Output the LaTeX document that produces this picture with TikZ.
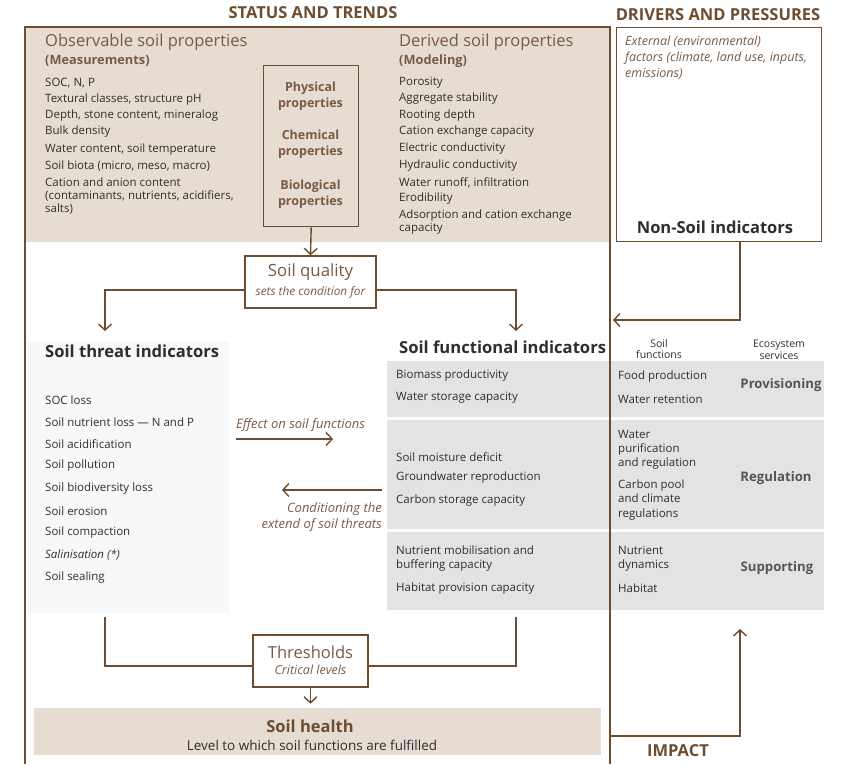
\documentclass[tikz,border=0pt]{standalone}
\usepackage{fontspec}
\setmainfont{Open Sans}
\usetikzlibrary{arrows.meta,calc}
\definecolor{frame}{HTML}{6E4C30}
\definecolor{beige}{HTML}{E6DCD2}
\definecolor{lbrown}{HTML}{7A5A42}
\definecolor{txt}{HTML}{2E2E2E}
\definecolor{grayp}{HTML}{E3E3E3}
\definecolor{lightp}{HTML}{F7F8FA}
\definecolor{svc}{HTML}{555555}
\tikzset{
  frameline/.style={draw=frame,line width=1.5pt},
  conn/.style={draw=frame,line width=1.4pt},
  arr/.style={conn,-{Straight Barb[length=6pt,width=13pt,line width=1.4pt]}},
  item/.style={anchor=west,inner sep=0pt,text=txt,font=\fontsize{11.5}{13}\selectfont,align=left},
  head/.style={anchor=center,inner sep=0pt,text=frame,font=\bfseries\fontsize{16.5}{19}\selectfont},
  big/.style={anchor=west,inner sep=0pt,text=lbrown,font=\fontsize{16.5}{19}\selectfont},
  sub/.style={anchor=west,inner sep=0pt,text=lbrown,font=\bfseries\fontsize{12.8}{15}\selectfont},
  prop/.style={anchor=center,inner sep=0pt,text=lbrown,font=\bfseries\fontsize{12.5}{16.5}\selectfont,align=center},
  ital/.style={inner sep=0pt,text=lbrown,font=\itshape\fontsize{13}{16}\selectfont},
  ttl/.style={anchor=west,inner sep=0pt,text=txt,font=\bfseries\fontsize{16.6}{19}\selectfont},
  svchead/.style={anchor=center,inner sep=0pt,text=txt,font=\fontsize{10.5}{11.5}\selectfont,align=center},
  svcname/.style={anchor=center,inner sep=0pt,text=svc,font=\bfseries\fontsize{13.2}{15}\selectfont},
  box/.style={draw=frame,line width=1.4pt,fill=white,inner sep=0pt},
}
\begin{document}
\begin{tikzpicture}[x=1pt,y=-1pt]
\useasboundingbox (0,0) rectangle (841,764);
% headings
\node[head] (hst) at (313,13) {STATUS AND TRENDS};
\node[head] (hdp) at (718,15) {DRIVERS AND PRESSURES};
% top beige area and frame
\fill[beige] (25,27) rectangle (610,242);
\fill[lightp] (27,342) rectangle (229,613);
\fill[grayp] (387,361) rectangle (824,417);
\fill[grayp] (387,420) rectangle (824,529);
\fill[grayp] (387,532) rectangle (824,610);
\draw[frameline] (25,764) -- (25,27) -- (610,27) -- (610,764);
% drivers box
\node[box,minimum width=205pt,minimum height=214pt,anchor=north west] (drv) at (616,27) {};
\node[ital,anchor=west,align=left,font=\itshape\fontsize{12.5}{16}\selectfont] (ext) at (625,58) {External (environmental)\\factors (climate, land use, inputs,\\emissions)};
\node[anchor=center,inner sep=0pt,text=txt,font=\bfseries\fontsize{16.5}{19}\selectfont] (nsi) at (715,227) {Non-Soil indicators};
% observable
\node[big] (obs) at (45,42) {Observable soil properties};
\node[sub] (meas) at (45,61) {(Measurements)};
\node[item] (o1) at (45,83) {SOC, N, P};
\node[item] (o2) at (45,100) {Textural classes, structure pH};
\node[item] (o3) at (45,116) {Depth, stone content, mineralog};
\node[item] (o4) at (45,132) {Bulk density};
\node[item] (o5) at (45,150) {Water content, soil temperature};
\node[item] (o6) at (45,166) {Soil biota (micro, meso, macro)};
\node[item] (o7) at (45,196) {Cation and anion content\\(contaminants, nutrients, acidifiers,\\salts)};
% properties box
\node[box,fill=none,minimum width=95pt,minimum height=161pt,anchor=north west] (props) at (263,65) {};
\node[prop] (pphys) at (310.5,96) {Physical\\properties};
\node[prop] (pchem) at (310.5,144) {Chemical\\properties};
\node[prop] (pbio) at (310.5,194) {Biological\\properties};
% derived
\node[big] (der) at (399,42) {Derived soil properties};
\node[sub] (mod) at (399,61) {(Modeling)};
\node[item] (d1) at (399,83) {Porosity};
\node[item] (d2) at (399,99) {Aggregate stability};
\node[item] (d3) at (399,116) {Rooting depth};
\node[item] (d4) at (399,132) {Cation exchange capacity};
\node[item] (d5) at (399,149) {Electric conductivity};
\node[item] (d6) at (399,166) {Hydraulic conductivity};
\node[item] (d7) at (399,183) {Water runoff, infiltration};
\node[item] (d8) at (399,199) {Erodibility};
\node[item,font=\fontsize{11.5}{13}\selectfont] (d9) at (399,222) {Adsorption and cation exchange\\capacity};
% soil quality
\node[box,minimum width=131pt,minimum height=52pt] (sq) at (310.5,282) {};
\node[anchor=center,inner sep=0pt,text=lbrown,font=\fontsize{16.8}{19}\selectfont] (sqt) at (310.5,272) {Soil quality};
\node[ital,anchor=center,font=\itshape\fontsize{11.8}{14}\selectfont] (sqs) at (310.5,292) {sets the condition for};
\draw[arr] (props.south) -- (sq.north);
\draw[arr] ($(sq.west)+(0,8)$) -| (105,331);
\draw[arr] ($(sq.east)+(0,8)$) -| (516,331);
% non-soil connector
\coordinate (nsout) at (740,241);
\coordinate (nsin) at (613,320);
\draw[arr] (nsout) |- (nsin);
% threat indicators
\node[ttl] (tti) at (45,351) {Soil threat indicators};
\node[item] (t1) at (45,400) {SOC loss};
\node[item] (t2) at (45,422) {Soil nutrient loss — N and P};
\node[item] (t3) at (45,444) {Soil acidification};
\node[item] (t4) at (45,466) {Soil pollution};
\node[item] (t5) at (45,489) {Soil biodiversity loss};
\node[item] (t6) at (45,511) {Soil erosion};
\node[item] (t7) at (45,533) {Soil compaction};
\node[item,font=\itshape\fontsize{11.5}{13}\selectfont] (t8) at (45,555) {Salinisation (*)};
\node[item] (t9) at (45,578) {Soil sealing};
% middle arrows
\node[ital,anchor=west] (eff) at (236,425) {Effect on soil functions};
\coordinate (effa) at (236,439);
\coordinate (effb) at (333,439);
\draw[arr] (effa) -- (effb);
\coordinate (cona) at (382,490);
\coordinate (conb) at (282,490);
\draw[arr] (cona) -- (conb);
\node[ital,anchor=east,align=right] (cond) at (382,517) {Conditioning the\\extend of soil threats};
% functional indicators
\node[ttl] (tfi) at (399,347) {Soil functional indicators};
\node[svchead] (hsf) at (659,349) {Soil\\functions};
\node[svchead] (hes) at (779,350) {Ecosystem\\services};
\node[item] (f1) at (396,376) {Biomass productivity};
\node[item] (f2) at (396,398) {Water storage capacity};
\node[item] (f3) at (396,457) {Soil moisture deficit};
\node[item] (f4) at (396,478) {Groundwater reproduction};
\node[item] (f5) at (396,501) {Carbon storage capacity};
\node[item,font=\fontsize{11.5}{14}\selectfont] (f6) at (396,559) {Nutrient mobilisation and\\buffering capacity};
\node[item] (f7) at (396,589) {Habitat provision capacity};
\node[item] (s1) at (618,377) {Food production};
\node[item] (s2) at (618,399) {Water retention};
\node[item,font=\fontsize{11.5}{14}\selectfont] (s3) at (618,450) {Water\\purification\\and regulation};
\node[item,font=\fontsize{11.5}{14.5}\selectfont] (s4) at (618,500) {Carbon pool\\and climate\\regulations};
\node[item,font=\fontsize{11.5}{14}\selectfont] (s5) at (618,559) {Nutrient\\dynamics};
\node[item] (s6) at (618,588) {Habitat};
\node[svcname] (e1) at (781,385) {Provisioning};
\node[svcname] (e2) at (776,478) {Regulation};
\node[svcname] (e3) at (777,568) {Supporting};
% thresholds
\node[box,minimum width=115pt,minimum height=52pt] (th) at (310.5,661) {};
\node[anchor=center,inner sep=0pt,text=lbrown,font=\fontsize{16.5}{19}\selectfont] (tht) at (310.5,652) {Thresholds};
\node[ital,anchor=center,font=\itshape\fontsize{12.5}{15}\selectfont] (ths) at (310.5,670) {Critical levels};
\coordinate (tl) at (105,617);
\coordinate (tr) at (516,617);
\draw[conn] (tl) |- ($(th.west)+(0,5)$);
\draw[conn] (tr) |- ($(th.east)+(0,5)$);
% soil health
\node[fill=beige,inner sep=0pt,minimum width=567pt,minimum height=47pt,anchor=north west] (sh) at (34,708) {};
\draw[arr] (th.south) -- ++(0,16);
\node[anchor=center,inner sep=0pt,text=frame,font=\bfseries\fontsize{16.5}{19}\selectfont] (sht) at (310,726) {Soil health};
\node[anchor=center,inner sep=0pt,text=txt,font=\fontsize{13.5}{15}\selectfont] (shs) at (312,745) {Level to which soil functions are fulfilled};
% impact
\coordinate (ima) at (610,736);
\coordinate (imb) at (740,629);
\draw[arr] (ima) -| (imb);
\node[head] (imp) at (678,751) {IMPACT};
\end{tikzpicture}
\end{document}
